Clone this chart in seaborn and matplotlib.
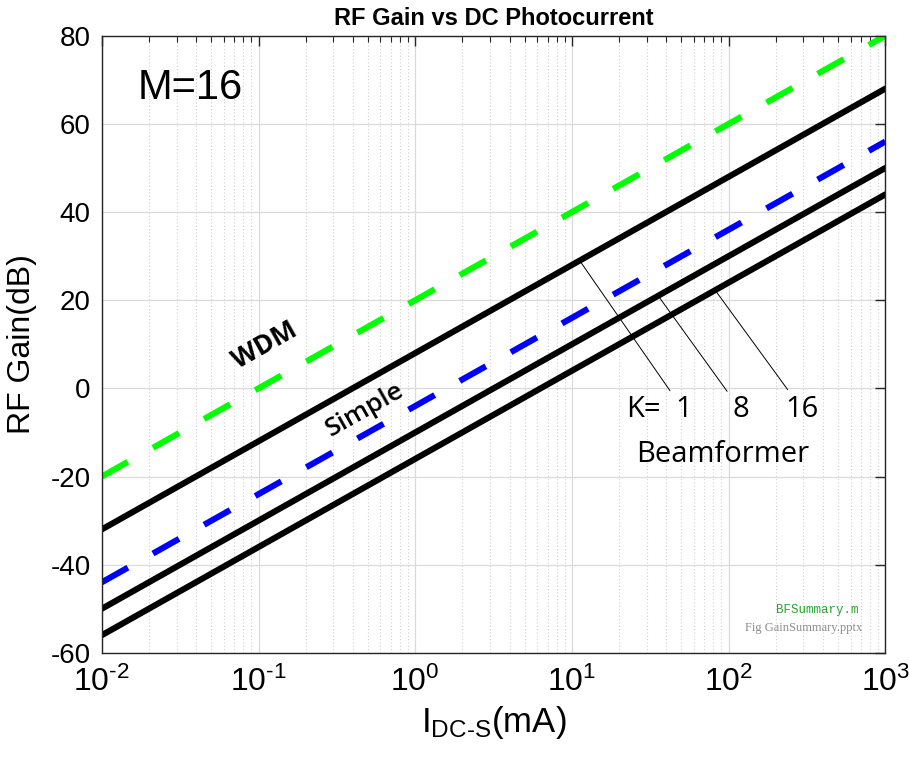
import numpy as np
import pandas as pd
import seaborn as sns
import matplotlib.pyplot as plt
from matplotlib.ticker import LogLocator, NullFormatter, FuncFormatter

# values (dB at each decade of I_DC-S)
i_dc = [0.01, 0.1, 1, 10, 100, 1000]
wdm_gain = [-20, 0, 20, 40, 60, 80]
simple_gain = [-44, -24, -4, 16, 36, 56]
bf_k1_gain = [-32, -12, 8, 28, 48, 68]
bf_k8_gain = [-50, -30, -10, 10, 30, 50]
bf_k16_gain = [-56, -36, -16, 4, 24, 44]

y_ticks = [-60, -40, -20, 0, 20, 40, 60, 80]
k_labels = ['1', '8', '16']
k_attach_x = [11.2, 35.5, 82.0]   # where the leader lines touch the curves

sns.set_style('white')
plt.rcParams['font.family'] = ['Liberation Sans', 'DejaVu Sans']
plt.rcParams['mathtext.fontset'] = 'custom'
plt.rcParams['mathtext.rm'] = 'Liberation Sans'
plt.rcParams['mathtext.it'] = 'Liberation Sans:italic'
plt.rcParams['mathtext.default'] = 'regular'
plt.rcParams['axes.unicode_minus'] = False
for k in ['text.color', 'axes.labelcolor', 'xtick.labelcolor', 'ytick.labelcolor']:
    plt.rcParams[k] = 'black'

df = pd.DataFrame({'I': i_dc, 'WDM': wdm_gain, 'Simple': simple_gain,
                   'K1': bf_k1_gain, 'K8': bf_k8_gain, 'K16': bf_k16_gain})

fig = plt.figure(figsize=(9.09, 7.6), dpi=100)
ax = fig.add_axes([0.112, 0.141, 0.862, 0.812])

lw = 4.4
dash = (0, (4.9, 4.7))
sns.lineplot(data=df, x='I', y='WDM', ax=ax, color='#00ff00', lw=lw, linestyle=dash)
sns.lineplot(data=df, x='I', y='Simple', ax=ax, color='#0000ff', lw=lw, linestyle=dash)
for col in ['K1', 'K8', 'K16']:
    sns.lineplot(data=df, x='I', y=col, ax=ax, color='black', lw=lw)


def pow10_label(v, pos):
    n = int(round(np.log10(v)))
    if n < 0:
        return r'$10^{\text{-}%d}$' % (-n)
    return r'$10^{%d}$' % n


ax.set_xscale('log')
ax.set_xlim(1e-2, 1e3)
ax.set_ylim(-60, 80)
ax.set_yticks(y_ticks)
ax.xaxis.set_major_formatter(FuncFormatter(pow10_label))
ax.xaxis.set_minor_locator(LogLocator(base=10, subs=np.arange(2, 10)))
ax.xaxis.set_minor_formatter(NullFormatter())

ax.grid(True, which='major', color='#dadada', lw=0.9, ls='-')
ax.grid(True, which='minor', axis='x', color='#d0d0d0', lw=0.8, ls=(0, (1, 2)))
ax.tick_params(which='both', direction='in', top=True, right=True, color='#262626')
ax.tick_params(which='major', length=7, width=1)
ax.tick_params(which='minor', length=4, width=0.8)
ax.tick_params(axis='y', labelsize=20, pad=8)
ax.tick_params(axis='x', labelsize=23, pad=10)
for sp in ax.spines.values():
    sp.set_color('#262626')
    sp.set_linewidth(1.0)

ax.set_title('RF Gain vs DC Photocurrent', fontsize=17, fontweight='bold', pad=8)
ax.set_ylabel('RF Gain(dB)', fontsize=23, labelpad=10)
ax.set_xlabel(r'$I_{DC\text{-}S}$(mA)', fontsize=25, labelpad=4)

# annotations
ax.text(0.046, 0.916, 'M=16', transform=ax.transAxes, fontsize=30, va='center', ha='left')
ax.text(0.208, 0.499, 'WDM', transform=ax.transAxes, fontsize=19, fontweight='bold',
        family='Open Sans', rotation=29.5, ha='center', va='center', rotation_mode='anchor')
ax.text(0.336, 0.394, 'Simple', transform=ax.transAxes, fontsize=19, fontweight='semibold',
        family='Open Sans', rotation=29.5, ha='center', va='center', rotation_mode='anchor')

ax.text(0.691, 0.394, 'K=', transform=ax.transAxes, fontsize=21, family='Open Sans',
        ha='center', va='center')
logx = np.log10(i_dc)
for lab, xa, col, fx in zip(k_labels, k_attach_x, ['K1', 'K8', 'K16'], [0.742, 0.815, 0.894]):
    ya = np.interp(np.log10(xa), logx, df[col])
    ax.annotate(lab, xy=(xa, ya), xycoords='data', xytext=(fx, 0.394),
                textcoords='axes fraction', fontsize=21, family='Open Sans',
                ha='center', va='center',
                arrowprops=dict(arrowstyle='-', color='black', lw=0.7,
                                shrinkA=2, shrinkB=0))
ax.text(0.793, 0.321, 'Beamformer', transform=ax.transAxes, fontsize=21, family='Open Sans',
        ha='center', va='center')

ax.text(0.966, 0.070, 'BFSummary.m', transform=ax.transAxes, fontsize=9,
        family='Liberation Mono', color='#2ca02c', ha='right', va='center')
ax.text(0.971, 0.041, 'Fig GainSummary.pptx', transform=ax.transAxes, fontsize=9,
        family='Liberation Serif', color='#8c8c8c', ha='right', va='center')

fig.savefig('out.png', dpi=100)
